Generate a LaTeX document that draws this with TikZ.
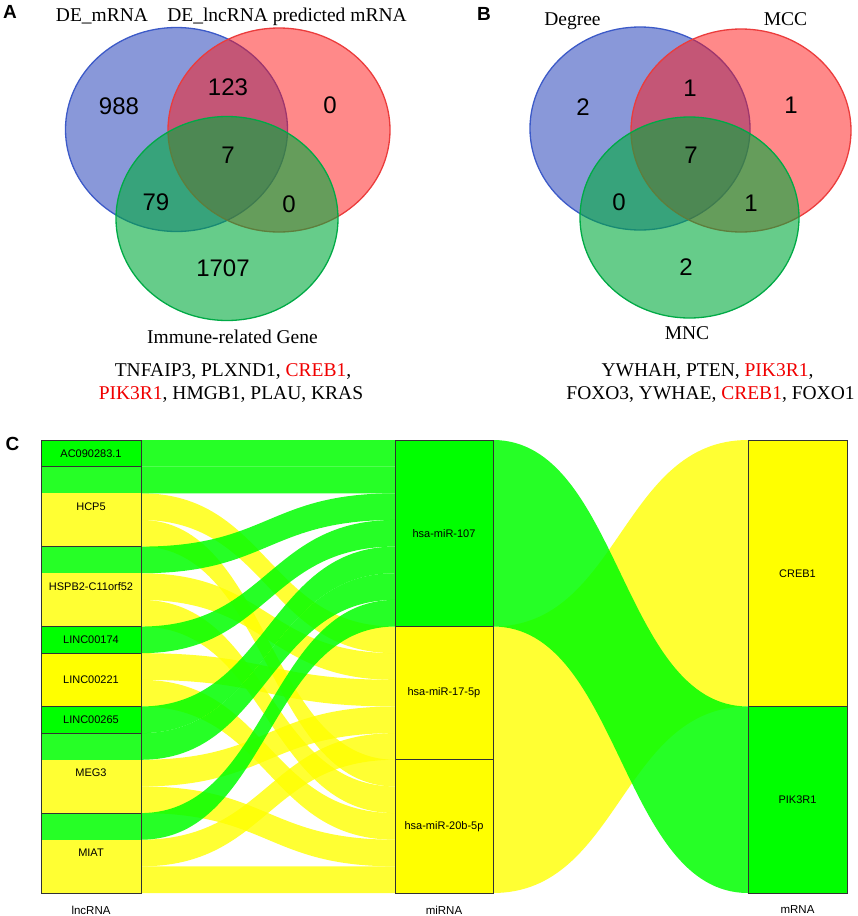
\documentclass[tikz,border=0pt]{standalone}
\usepackage{fontspec}
\setmainfont{Liberation Serif}
\setsansfont{Liberation Sans}
\usetikzlibrary{positioning, calc, shapes.geometric, backgrounds}

\definecolor{vblue}{RGB}{20,50,180}
\definecolor{vred}{RGB}{255,20,20}
\definecolor{vgreen}{RGB}{0,170,60}
\definecolor{lblue}{RGB}{60,90,200}
\definecolor{lred}{RGB}{235,60,60}
\definecolor{lgreen}{RGB}{0,170,70}
\definecolor{sgreen}{RGB}{0,255,0}
\definecolor{syellow}{RGB}{255,255,0}
\definecolor{genered}{RGB}{240,0,0}

\def\u{26.647}

\begin{document}
\begin{tikzpicture}[x=1pt, y=-1pt, inner sep=0pt, outer sep=0pt]

	% Define styles
	\tikzstyle{vennset} = [ellipse, line width=1.3pt, fill opacity=0.5, minimum width=222pt, minimum height=204pt]
	\tikzstyle{setname} = [font=\fontsize{19.5}{23}\selectfont, anchor=base]
	\tikzstyle{count} = [font=\sffamily\fontsize{24}{28}\selectfont]
	\tikzstyle{panel} = [font=\sffamily\bfseries\fontsize{19}{22}\selectfont]
	\tikzstyle{stratum} = [rectangle, draw=black!80, line width=0.8pt, minimum width=100pt, font=\sffamily\fontsize{11}{13}\selectfont]
	\tikzstyle{collabel} = [font=\sffamily\fontsize{11.5}{13}\selectfont]
	\tikzstyle{flowgreen} = [fill=sgreen, fill opacity=0.85]
	\tikzstyle{flowyellow} = [fill=syellow, fill opacity=0.8]

	\useasboundingbox (0,0) rectangle (858,916);

	% Panel letters
	\node[panel] (pa) at (10,12) {A};
	\node[panel] (pb) at (484,14) {B};
	\node[panel] (pc) at (12.5,444) {C};

	% Venn A
	\node[vennset, fill=vblue, draw=lblue] (demrna) at (176.5,129.5) {};
	\node[vennset, fill=vred, draw=lred] (delnc) at (279,130) {};
	\node[vennset, fill=vgreen, draw=lgreen, fill opacity=0.6] (immune) at (227,218.5) {};
	\node[count] (a1) at (119,106) {988};
	\node[count] (a2) at (228,87) {123};
	\node[count] (a3) at (330,105) {0};
	\node[count] (a4) at (228,155) {7};
	\node[count] (a5) at (156,202) {79};
	\node[count] (a6) at (289,204) {0};
	\node[count] (a7) at (223,268) {1707};
	\node[setname] (demrnaname) at (102,21) {DE\_mRNA};
	\node[setname] (delncname) at (287,21) {DE\_lncRNA predicted mRNA};
	\node[setname] (immunename) at (232.5,343) {Immune-related Gene};
	\node[setname] (genesa1) at (233,376) {TNFAIP3, PLXND1, \textcolor{genered}{CREB1},};
	\node[setname] (genesa2) at (231,399) {\textcolor{genered}{PIK3R1}, HMGB1, PLAU, KRAS};

	% Venn B
	\node[vennset, fill=vblue, draw=lblue, minimum width=220pt, minimum height=203pt] (degree) at (640,128.5) {};
	\node[vennset, fill=vred, draw=lred, minimum width=220pt, minimum height=203pt] (mcc) at (741,130.5) {};
	\node[vennset, fill=vgreen, draw=lgreen, fill opacity=0.6, minimum width=219pt, minimum height=201pt] (mnc) at (689.5,217.5) {};
	\node[count] (b1) at (583,107) {2};
	\node[count] (b2) at (690,88) {1};
	\node[count] (b3) at (791,105) {1};
	\node[count] (b4) at (691,155) {7};
	\node[count] (b5) at (619,202) {0};
	\node[count] (b6) at (751,203) {1};
	\node[count] (b7) at (686,267) {2};
	\node[setname] (degreename) at (572.5,25) {Degree};
	\node[setname] (mccname) at (785.5,25) {MCC};
	\node[setname] (mncname) at (687,339) {MNC};
	\node[setname] (genesb1) at (707.5,376) {YWHAH, PTEN, \textcolor{genered}{PIK3R1},};
	\node[setname] (genesb2) at (710.5,399) {FOXO3, YWHAE, \textcolor{genered}{CREB1}, FOXO1};

	% Sankey C: lncRNA strata
	\node[stratum, fill=sgreen, minimum height={\u pt}, anchor=north] (ac) at (91,440) {AC090283.1};
	\node[stratum, minimum height={3*\u pt}, below=0pt of ac] (hcp) {HCP5};
	\node[stratum, minimum height={3*\u pt}, below=0pt of hcp] (hspb) {HSPB2-C11orf52};
	\node[stratum, fill=sgreen, minimum height={\u pt}, below=0pt of hspb] (l174) {LINC00174};
	\node[stratum, fill=syellow, minimum height={2*\u pt}, below=0pt of l174] (l221) {LINC00221};
	\node[stratum, fill=sgreen, minimum height={\u pt}, below=0pt of l221] (l265) {LINC00265};
	\node[stratum, minimum height={3*\u pt}, below=0pt of l265] (meg) {MEG3};
	\node[stratum, minimum height={3*\u pt}, below=0pt of meg] (miat) {MIAT};

	% miRNA strata
	\node[stratum, fill=sgreen, minimum width=98pt, minimum height={7*\u pt}, anchor=north] (mir107) at (444,440) {hsa-miR-107};
	\node[stratum, fill=syellow, minimum width=98pt, minimum height={5*\u pt}, below=0pt of mir107] (mir17) {hsa-miR-17-5p};
	\node[stratum, fill=syellow, minimum width=98pt, minimum height={5*\u pt}, below=0pt of mir17] (mir20b) {hsa-miR-20b-5p};

	% mRNA strata
	\node[stratum, fill=syellow, minimum width=99pt, minimum height={10*\u pt}, anchor=north] (creb) at (797.5,440) {CREB1};
	\node[stratum, fill=sgreen, minimum width=99pt, minimum height={7*\u pt}, below=0pt of creb] (pik) {PIK3R1};

	% Axis labels
	\node[collabel, below=13pt of miat] (lnclabel) {lncRNA};
	\node[collabel, below=13pt of mir20b] (mirlabel) {miRNA};
	\node[collabel, below=13pt of pik] (mrnalabel) {mRNA};

	% Lodes
	\foreach \i in {1,...,17} {
		\coordinate (lodeL\i) at (141,{440+(\i-1)*\u});
		\coordinate (lodeM\i) at (395,{440+(\i-1)*\u});
	}

	\begin{scope}[on background layer]
		\foreach \i/\col in {2/flowgreen, 3/flowyellow, 4/flowyellow, 5/flowgreen, 6/flowyellow, 7/flowyellow,
			12/flowgreen, 13/flowyellow, 14/flowyellow, 15/flowgreen, 16/flowyellow, 17/flowyellow}
			\fill[\col] (lodeL\i) rectangle ++(-100,\u);

		% Flows lncRNA -> miRNA
		\foreach \src/\dst/\col in {3/8/flowyellow, 4/13/flowyellow, 6/9/flowyellow, 7/14/flowyellow, 9/10/flowyellow,
			10/15/flowyellow, 13/11/flowyellow, 14/16/flowyellow, 16/12/flowyellow, 17/17/flowyellow,
			1/1/flowgreen, 2/2/flowgreen, 5/3/flowgreen, 8/4/flowgreen, 11/5/flowgreen, 12/6/flowgreen, 15/7/flowgreen}
			\fill[\col] (lodeL\src) .. controls +(127,0) and +(-127,0) .. (lodeM\dst)
				-- ($(lodeM\dst)+(0,\u)$) .. controls +(-127,0) and +(127,0) .. ($(lodeL\src)+(0,\u)$) -- cycle;

		% Flows miRNA -> mRNA
		\fill[flowyellow] (mir17.north east) .. controls +(127,0) and +(-127,0) .. (creb.north west)
			-- (creb.south west) .. controls +(-127,0) and +(127,0) .. (mir20b.south east) -- cycle;
		\fill[flowgreen] (mir107.north east) .. controls +(127,0) and +(-127,0) .. (pik.north west)
			-- (pik.south west) .. controls +(-127,0) and +(127,0) .. (mir107.south east) -- cycle;
	\end{scope}

\end{tikzpicture}
\end{document}
